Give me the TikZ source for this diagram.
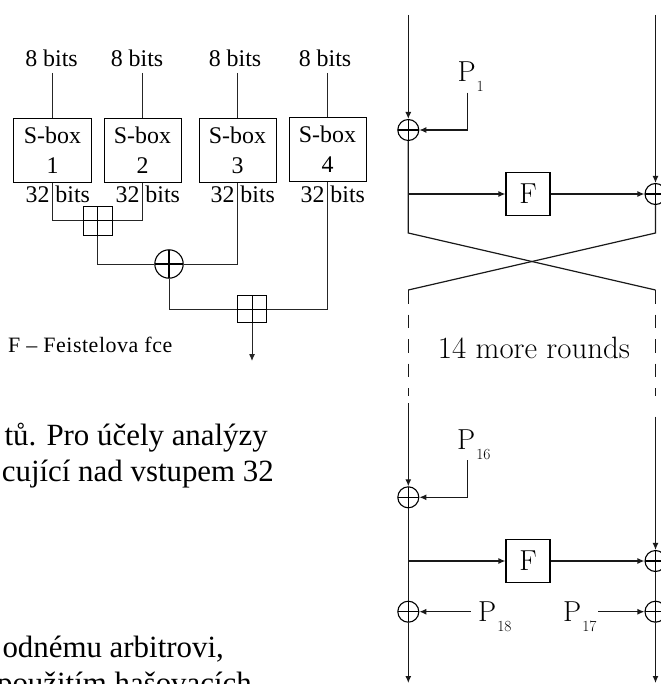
\documentclass[tikz,border=0pt]{standalone}
\usepackage{fontspec}
\usepackage{tikz}
\usetikzlibrary{arrows.meta,positioning}
\newfontfamily\timesfont{Liberation Serif}
\newfontfamily\captimes[LetterSpace=2.5]{Liberation Serif}
\newcommand{\bitsize}{\timesfont\fontsize{24}{30}\selectfont}
\newcommand{\czsize}{\timesfont\fontsize{31}{36}\selectfont}
\newcommand{\capsize}{\captimes\fontsize{22}{26}\selectfont}
\newcommand{\lmsize}{\fontsize{29}{34}\selectfont}
\newcommand{\lmbig}{\fontsize{31}{36}\selectfont}
\newcommand{\pkey}[1]{P\kern1bp\raisebox{-10bp}{\fontsize{15.5}{16}\selectfont #1}}

\begin{document}
\begin{tikzpicture}[
      x=1bp, y=-1bp,
      >={Latex[length=7bp,width=6bp]},
      wire/.style={line width=1bp, black!85},
      line/.style={line width=1.2bp, black!90},
      flow/.style={->, line width=1.2bp, black!90},
      sbox/.style={draw, line width=1bp, minimum width=77bp, minimum height=63bp,
        inner sep=0pt, align=center, font=\bitsize},
      bitlbl/.style={anchor=base, inner sep=0pt, font=\bitsize},
      addop/.style={draw, line width=1bp, minimum width=29bp, minimum height=29bp,
        inner sep=0pt, path picture={
          \draw[line width=1bp] (path picture bounding box.north) -- (path picture bounding box.south)
            (path picture bounding box.west) -- (path picture bounding box.east);}},
      xorop/.style={circle, draw, line width=1.1bp, minimum size=21bp, inner sep=0pt,
        path picture={
          \draw[line width=1.1bp] (path picture bounding box.north) -- (path picture bounding box.south)
            (path picture bounding box.west) -- (path picture bounding box.east);}},
      fbox/.style={draw, line width=1.2bp, minimum width=44bp, minimum height=43bp,
        inner sep=0pt, font=\lmsize},
      keylbl/.style={anchor=base west, inner sep=0pt, font=\lmsize},
      czline/.style={anchor=base east, inner sep=0pt, font=\czsize}
    ]
    \useasboundingbox (0,0) rectangle (661,684);

    \node[bitlbl] (bitsA) at (51.5,67) {8 bits};
    \node[bitlbl] (bitsB) at (137,67) {8 bits};
    \node[bitlbl] (bitsC) at (235,67) {8 bits};
    \node[bitlbl] (bitsD) at (325,67) {8 bits};

    \node[sbox] (sbox1) at (52.5,150.5) {S-box\\1};
    \node[sbox] (sbox2) at (142.5,150.5) {S-box\\2};
    \node[sbox] (sbox3) at (237.5,150.5) {S-box\\3};
    \node[sbox] (sbox4) at (327.5,149.5) {S-box\\4};

    \draw[wire] ([yshift=-6bp]bitsA.base -| sbox1.north) -- (sbox1.north);
    \draw[wire] ([yshift=-6bp]bitsB.base -| sbox2.north) -- (sbox2.north);
    \draw[wire] ([yshift=-6bp]bitsC.base -| sbox3.north) -- (sbox3.north);
    \draw[wire] ([yshift=-6bp]bitsD.base -| sbox4.north) -- (sbox4.north);

    \node[bitlbl] (outA) at (57.8,202) {32 bits};
    \node[bitlbl] (outB) at (147.8,202) {32 bits};
    \node[bitlbl] (outC) at (242.8,202) {32 bits};
    \node[bitlbl] (outD) at (332.8,202) {32 bits};

    \node[addop] (addA) at (97.5,220.5) {};
    \node[xorop, minimum size=28.4bp] (xorA) at (169,264) {};
    \node[addop, minimum height=26.5bp] (addB) at (252,309) {};
    \coordinate (fout) at (252,361);

    \draw[wire] (sbox1.south) |- (addA.west);
    \draw[wire] (sbox2.south) |- (addA.east);
    \draw[wire] (addA.south) |- (xorA.west);
    \draw[wire] (sbox3.south) |- (xorA.east);
    \draw[wire] (xorA.south) |- (addB.west);
    \draw[wire] (sbox4.south) |- (addB.east);
    \draw[wire, ->] (addB.south) -- (fout);

    \node[anchor=base west, inner sep=0pt, font=\capsize] (caption) at (8,352)
      {F – Feistelova fce};

    \node[czline] (lineA) at (268,445) {tů. Pro účely analýzy};
    \node[czline] (lineB) at (274,481) {cující nad vstupem 32};
    \node[czline] (lineC) at (224,657) {odnému arbitrovi,};
    \node[czline] (lineD) at (252,693) {použitím hašovacích};

    \coordinate (topL) at (408.3,15);
    \coordinate (topR) at (655.5,15);
    \node[xorop] (xorL1) at (408.3,130) {};
    \node[keylbl] (key1) at (457.3,82) {\pkey{1}};
    \coordinate (key1end) at (467.7,92.7);
    \node[fbox] (f1) at (528,194) {F};
    \node[xorop] (xorR1) at (655.5,194) {};

    \draw[flow] (topL) -- (xorL1);
    \draw[flow] (key1end) |- (xorL1);
    \draw[flow] (xorL1 |- f1) -- (f1);
    \draw[flow] (f1) -- (xorR1);
    \draw[flow] (topR) -- (xorR1);

    \coordinate (crossL1) at (408.3,233);
    \coordinate (crossR1) at (655.5,233);
    \coordinate (crossL2) at (408.3,290);
    \coordinate (crossR2) at (655.5,290);
    \coordinate (dashL) at (408.3,396);
    \coordinate (dashR) at (655.5,396);
    \coordinate (solidL) at (408.3,403.3);
    \coordinate (solidR) at (655.5,416.7);

    \draw[line] (xorL1.south) -- (crossL1) -- (crossR2);
    \draw[line] (xorR1.south) -- (crossR1) -- (crossL2);
    \draw[line, dash pattern=on 13.5bp off 11bp] (crossL2) -- (dashL);
    \draw[line, dash pattern=on 13.5bp off 11bp] (crossR2) -- (dashR);

    \node[anchor=base, inner sep=0pt, font=\lmbig] (more) at (534,358.3) {14 more rounds};

    \node[xorop] (xorL2) at (408.3,497.3) {};
    \node[keylbl] (key16) at (457,449.5) {\pkey{16}};
    \coordinate (key16end) at (467.7,460);
    \node[fbox] (f2) at (528,561) {F};
    \node[xorop] (xorR2) at (655.5,561) {};

    \draw[flow] (solidL) -- (xorL2);
    \draw[flow] (key16end) |- (xorL2);
    \draw[flow] (xorL2 |- f2) -- (f2);
    \draw[flow] (f2) -- (xorR2);
    \draw[flow] (solidR) -- (xorR2);

    \node[xorop] (xorL3) at (408.3,611.7) {};
    \node[xorop] (xorR3) at (655.5,611.7) {};
    \node[keylbl] (key18) at (478,621.7) {\pkey{18}};
    \node[keylbl] (key17) at (563,621.7) {\pkey{17}};
    \coordinate (key18end) at (470.7,611.7);
    \coordinate (key17end) at (598,611.7);
    \coordinate (botL) at (408.3,683);
    \coordinate (botR) at (655.5,683);

    \draw[line] (xorL2) -- (xorL3);
    \draw[line] (xorR2) -- (xorR3);
    \draw[flow] (key18end) -- (xorL3);
    \draw[flow] (key17end) -- (xorR3);
    \draw[flow] (xorL3) -- (botL);
    \draw[flow] (xorR3) -- (botR);
  \end{tikzpicture}
\end{document}
